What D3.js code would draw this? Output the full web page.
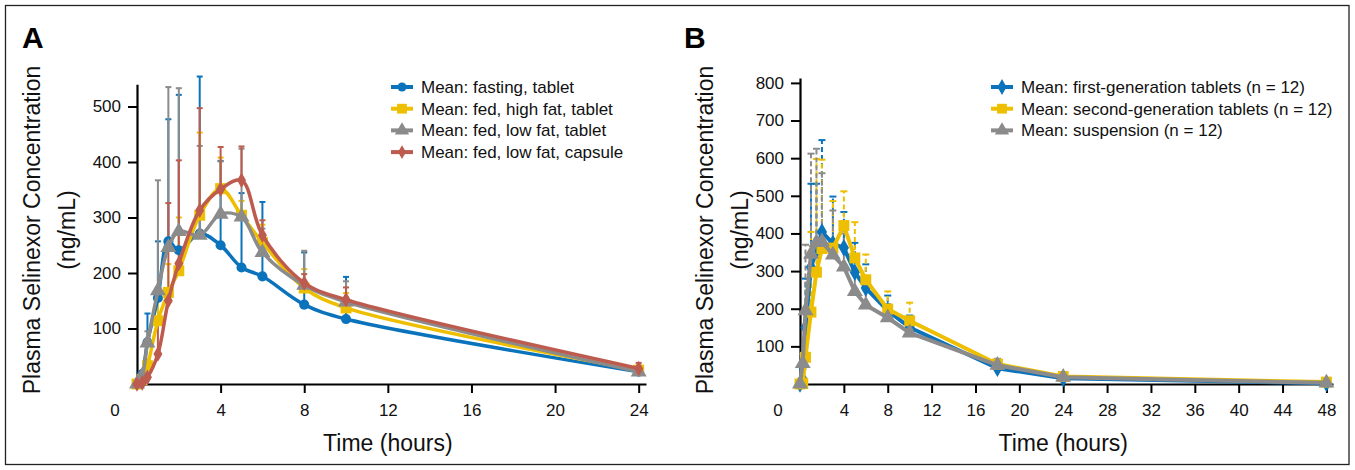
<!DOCTYPE html>
<html><head><meta charset="utf-8">
<script src="https://cdn.jsdelivr.net/npm/d3@7"></script>
<style>
html,body{margin:0;padding:0;background:#fff;}
svg{display:block;font-family:"Liberation Sans",Arial,sans-serif;}
</style></head>
<body><svg id="c" width="1355" height="470"></svg>
<script>
// ---------- Panel A data ----------
const timesA = [0, 0.25, 0.5, 1, 1.5, 2, 3, 4, 5, 6, 8, 10, 24];
const fastingTablet   = [0, 18, 75, 155, 257, 241, 271, 250, 210, 194, 143, 117, 22];
const highFatTablet   = [0, 8, 33, 114, 165, 204, 304, 352, 304, 255, 173, 137, 25];
const lowFatTablet    = [0, 15, 74, 168, 246, 275, 268, 306, 301, 237, 178, 148, 22];
const lowFatCapsule   = [0, 2, 12, 54, 150, 217, 313, 351, 367, 268, 182, 152, 28];
// upper ends of error bars (mean + SD), null = none drawn
const fastingTabletUpper = [null, null, 127, 257, 477, 521, 554, 402, 344, 328, 237, 193, 30];
const highFatTabletUpper = [null, null, 45, 150, 216, 300, 453, 408, 330, 287, 207, 164, 33];
const lowFatTabletUpper  = [null, null, 95, 367, 535, 533, 429, 401, 424, 280, 240, 185, 30];
const lowFatCapsuleUpper = [null, null, 20, 120, 326, 403, 497, 427, 428, 295, 198, 174, 38];
const seriesNamesA = ["Mean: fasting, tablet", "Mean: fed, high fat, tablet", "Mean: fed, low fat, tablet", "Mean: fed, low fat, capsule"];
const xTicksA = [4, 8, 12, 16, 20, 24];
const yTicksA = [100, 200, 300, 400, 500];

// ---------- Panel B data ----------
const timesB = [0, 0.25, 0.5, 1, 1.5, 2, 3, 4, 5, 6, 8, 10, 18, 24, 48];
const firstGen   = [0, 12, 150, 310, 355, 404, 373, 362, 297, 255, 195, 150, 42, 15, 2];
const secondGen  = [0, 2, 71, 191, 297, 360, 361, 421, 335, 277, 199, 168, 53, 20, 5];
const suspension = [0, 55, 195, 345, 376, 378, 343, 311, 246, 210, 176, 136, 50, 18, 3];
const firstGenUpper   = [null, 40, 280, 532, 532, 648, 498, 457, 375, 318, 235, 182, 62, 26, 6];
const secondGenUpper  = [null, null, 110, 404, 598, 596, 486, 512, 430, 344, 246, 216, 66, 28, 8];
const suspensionUpper = [null, 80, 370, 612, 625, 560, 461, 400, 300, 250, 212, 160, 67, 27, 6];
const seriesNamesB = ["Mean: first-generation tablets (n = 12)", "Mean: second-generation tablets (n = 12)", "Mean: suspension (n = 12)"];
const xTicksB = [4, 8, 12, 16, 20, 24, 28, 32, 36, 40, 44, 48];
const yTicksB = [100, 200, 300, 400, 500, 600, 700, 800];

const yTitle1 = "Plasma Selinexor Concentration";
const yTitle2 = "(ng/mL)";
const xTitle = "Time (hours)";

const BLUE = "#0a73bb", YELLOW = "#eebf00", GRAY = "#8b8b8b", RED = "#bd5b4f";

const svg = d3.select("#c");
svg.append("rect").attr("x", 5.5).attr("y", 5.5).attr("width", 1343.5).attr("height", 459)
  .attr("fill", "none").attr("stroke", "#222").attr("stroke-width", 1.3);

function symbolPath(type, size) { return d3.symbol().type(type).size(size)(); }

function drawPanel(cfg) {
  const g = svg.append("g");
  const x = d3.scaleLinear().domain(cfg.xDomain).range(cfg.xRange);
  const y = d3.scaleLinear().domain(cfg.yDomain).range(cfg.yRange);

  // axes
  const ax = g.append("g").attr("transform", `translate(0,${cfg.yRange[0]})`)
    .call(d3.axisBottom(x).tickValues(cfg.xTicks).tickSizeInner(9).tickSizeOuter(0).tickPadding(11));
  const ay = g.append("g").attr("transform", `translate(${cfg.xRange[0]},0)`)
    .call(d3.axisLeft(y).tickValues(cfg.yTicks).tickSizeInner(9).tickSizeOuter(0).tickPadding(7));
  [ax, ay].forEach(a => {
    a.select(".domain").attr("stroke", "#000").attr("stroke-width", 2.2);
    a.selectAll(".tick line").attr("stroke", "#000").attr("stroke-width", 2);
    a.selectAll(".tick text").attr("fill", "#111").style("font-size", "17px")
      .style("font-family", "'Liberation Sans',Arial,sans-serif");
  });
  // origin label "0"
  g.append("text").attr("x", x(0) - 22).attr("y", cfg.yRange[0] + 32).attr("text-anchor", "middle")
    .style("font-size", "17px").attr("fill", "#111").text("0");

  // titles
  g.append("text").attr("x", (cfg.xRange[0] + x(cfg.xTicks[cfg.xTicks.length - 1])) / 2 + cfg.xTitleShift)
    .attr("y", cfg.yRange[0] + 67).attr("text-anchor", "middle")
    .style("font-size", "23px").attr("fill", "#111").text(xTitle);
  const ycy = 230;
  g.append("text").attr("transform", `translate(${cfg.yt1},${ycy}) rotate(-90)`).attr("text-anchor", "middle")
    .style("font-size", "23px").attr("fill", "#111").text(yTitle1);
  g.append("text").attr("transform", `translate(${cfg.yt2},${ycy}) rotate(-90)`).attr("text-anchor", "middle")
    .style("font-size", "23px").attr("fill", "#111").text(yTitle2);
  g.append("text").attr("x", cfg.letterX).attr("y", 48).style("font-size", "30px").style("font-weight", "bold")
    .attr("fill", "#000").text(cfg.letter);

  // error bars
  cfg.series.forEach(s => {
    const eg = g.append("g");
    cfg.times.forEach((t, i) => {
      const up = s.upper[i];
      if (up == null) return;
      const px = x(t);
      eg.append("line").attr("x1", px).attr("x2", px).attr("y1", y(s.values[i])).attr("y2", y(up))
        .attr("stroke", s.color).attr("stroke-width", cfg.ebWidth)
        .attr("stroke-dasharray", cfg.dashed ? "5,3" : null);
      eg.append("line").attr("x1", px - cfg.capW / 2).attr("x2", px + cfg.capW / 2).attr("y1", y(up)).attr("y2", y(up))
        .attr("stroke", s.color).attr("stroke-width", 2);
    });
  });

  // lines + markers
  cfg.series.forEach(s => {
    const pts = cfg.times.map((t, i) => [t, s.values[i]]);
    g.append("path").datum(pts)
      .attr("d", d3.line().x(d => x(d[0])).y(d => y(d[1])).curve(cfg.curve))
      .attr("fill", "none").attr("stroke", s.color).attr("stroke-width", cfg.lineW)
      .attr("stroke-linejoin", "round");
    g.append("g").selectAll("path").data(pts).join("path")
      .attr("d", symbolPath(s.symbol, s.size))
      .attr("transform", d => `translate(${x(d[0])},${y(d[1])})`)
      .attr("fill", s.color);
  });

  // legend
  const lg = g.append("g");
  cfg.series.forEach((s, i) => {
    const cy = cfg.legY + i * cfg.legDy;
    lg.append("line").attr("x1", cfg.legX).attr("x2", cfg.legX + 22).attr("y1", cy).attr("y2", cy)
      .attr("stroke", s.color).attr("stroke-width", 4);
    lg.append("path").attr("d", symbolPath(s.symbol, s.size * 0.8))
      .attr("transform", `translate(${cfg.legX + 11},${cy})`).attr("fill", s.color);
    lg.append("text").attr("x", cfg.legX + 30).attr("y", cy + 6).style("font-size", "17px")
      .attr("fill", "#111").text(s.name);
  });
}

drawPanel({
  letter: "A", letterX: 22,
  xDomain: [0, 24.35], xRange: [137, 646],
  yDomain: [0, 540], yRange: [384, 84.3],
  xTicks: xTicksA, yTicks: yTicksA, times: timesA,
  xTitleShift: 0, yt1: 40, yt2: 75,
  curve: d3.curveCatmullRom.alpha(0.5), lineW: 3.5, ebWidth: 2, capW: 6, dashed: false,
  legX: 391, legY: 87, legDy: 21.7,
  series: [
    { name: seriesNamesA[0], values: fastingTablet, upper: fastingTabletUpper, color: BLUE, symbol: d3.symbolCircle, size: 80 },
    { name: seriesNamesA[1], values: highFatTablet, upper: highFatTabletUpper, color: YELLOW, symbol: d3.symbolSquare, size: 120 },
    { name: seriesNamesA[2], values: lowFatTablet, upper: lowFatTabletUpper, color: GRAY, symbol: d3.symbolTriangle, size: 110 },
    { name: seriesNamesA[3], values: lowFatCapsule, upper: lowFatCapsuleUpper, color: RED, symbol: d3.symbolDiamond, size: 70 }
  ]
});

drawPanel({
  letter: "B", letterX: 684,
  xDomain: [0, 48.6], xRange: [800, 1333],
  yDomain: [0, 813], yRange: [384, 78],
  xTicks: xTicksB, yTicks: yTicksB, times: timesB,
  xTitleShift: 0, yt1: 713, yt2: 748,
  curve: d3.curveLinear, lineW: 4, ebWidth: 2, capW: 7, dashed: true,
  legX: 991, legY: 87, legDy: 21.7,
  series: [
    { name: seriesNamesB[0], values: firstGen, upper: firstGenUpper, color: BLUE, symbol: d3.symbolDiamond, size: 90 },
    { name: seriesNamesB[1], values: secondGen, upper: secondGenUpper, color: YELLOW, symbol: d3.symbolSquare, size: 120 },
    { name: seriesNamesB[2], values: suspension, upper: suspensionUpper, color: GRAY, symbol: d3.symbolTriangle, size: 110 }
  ]
});
</script></body></html>
